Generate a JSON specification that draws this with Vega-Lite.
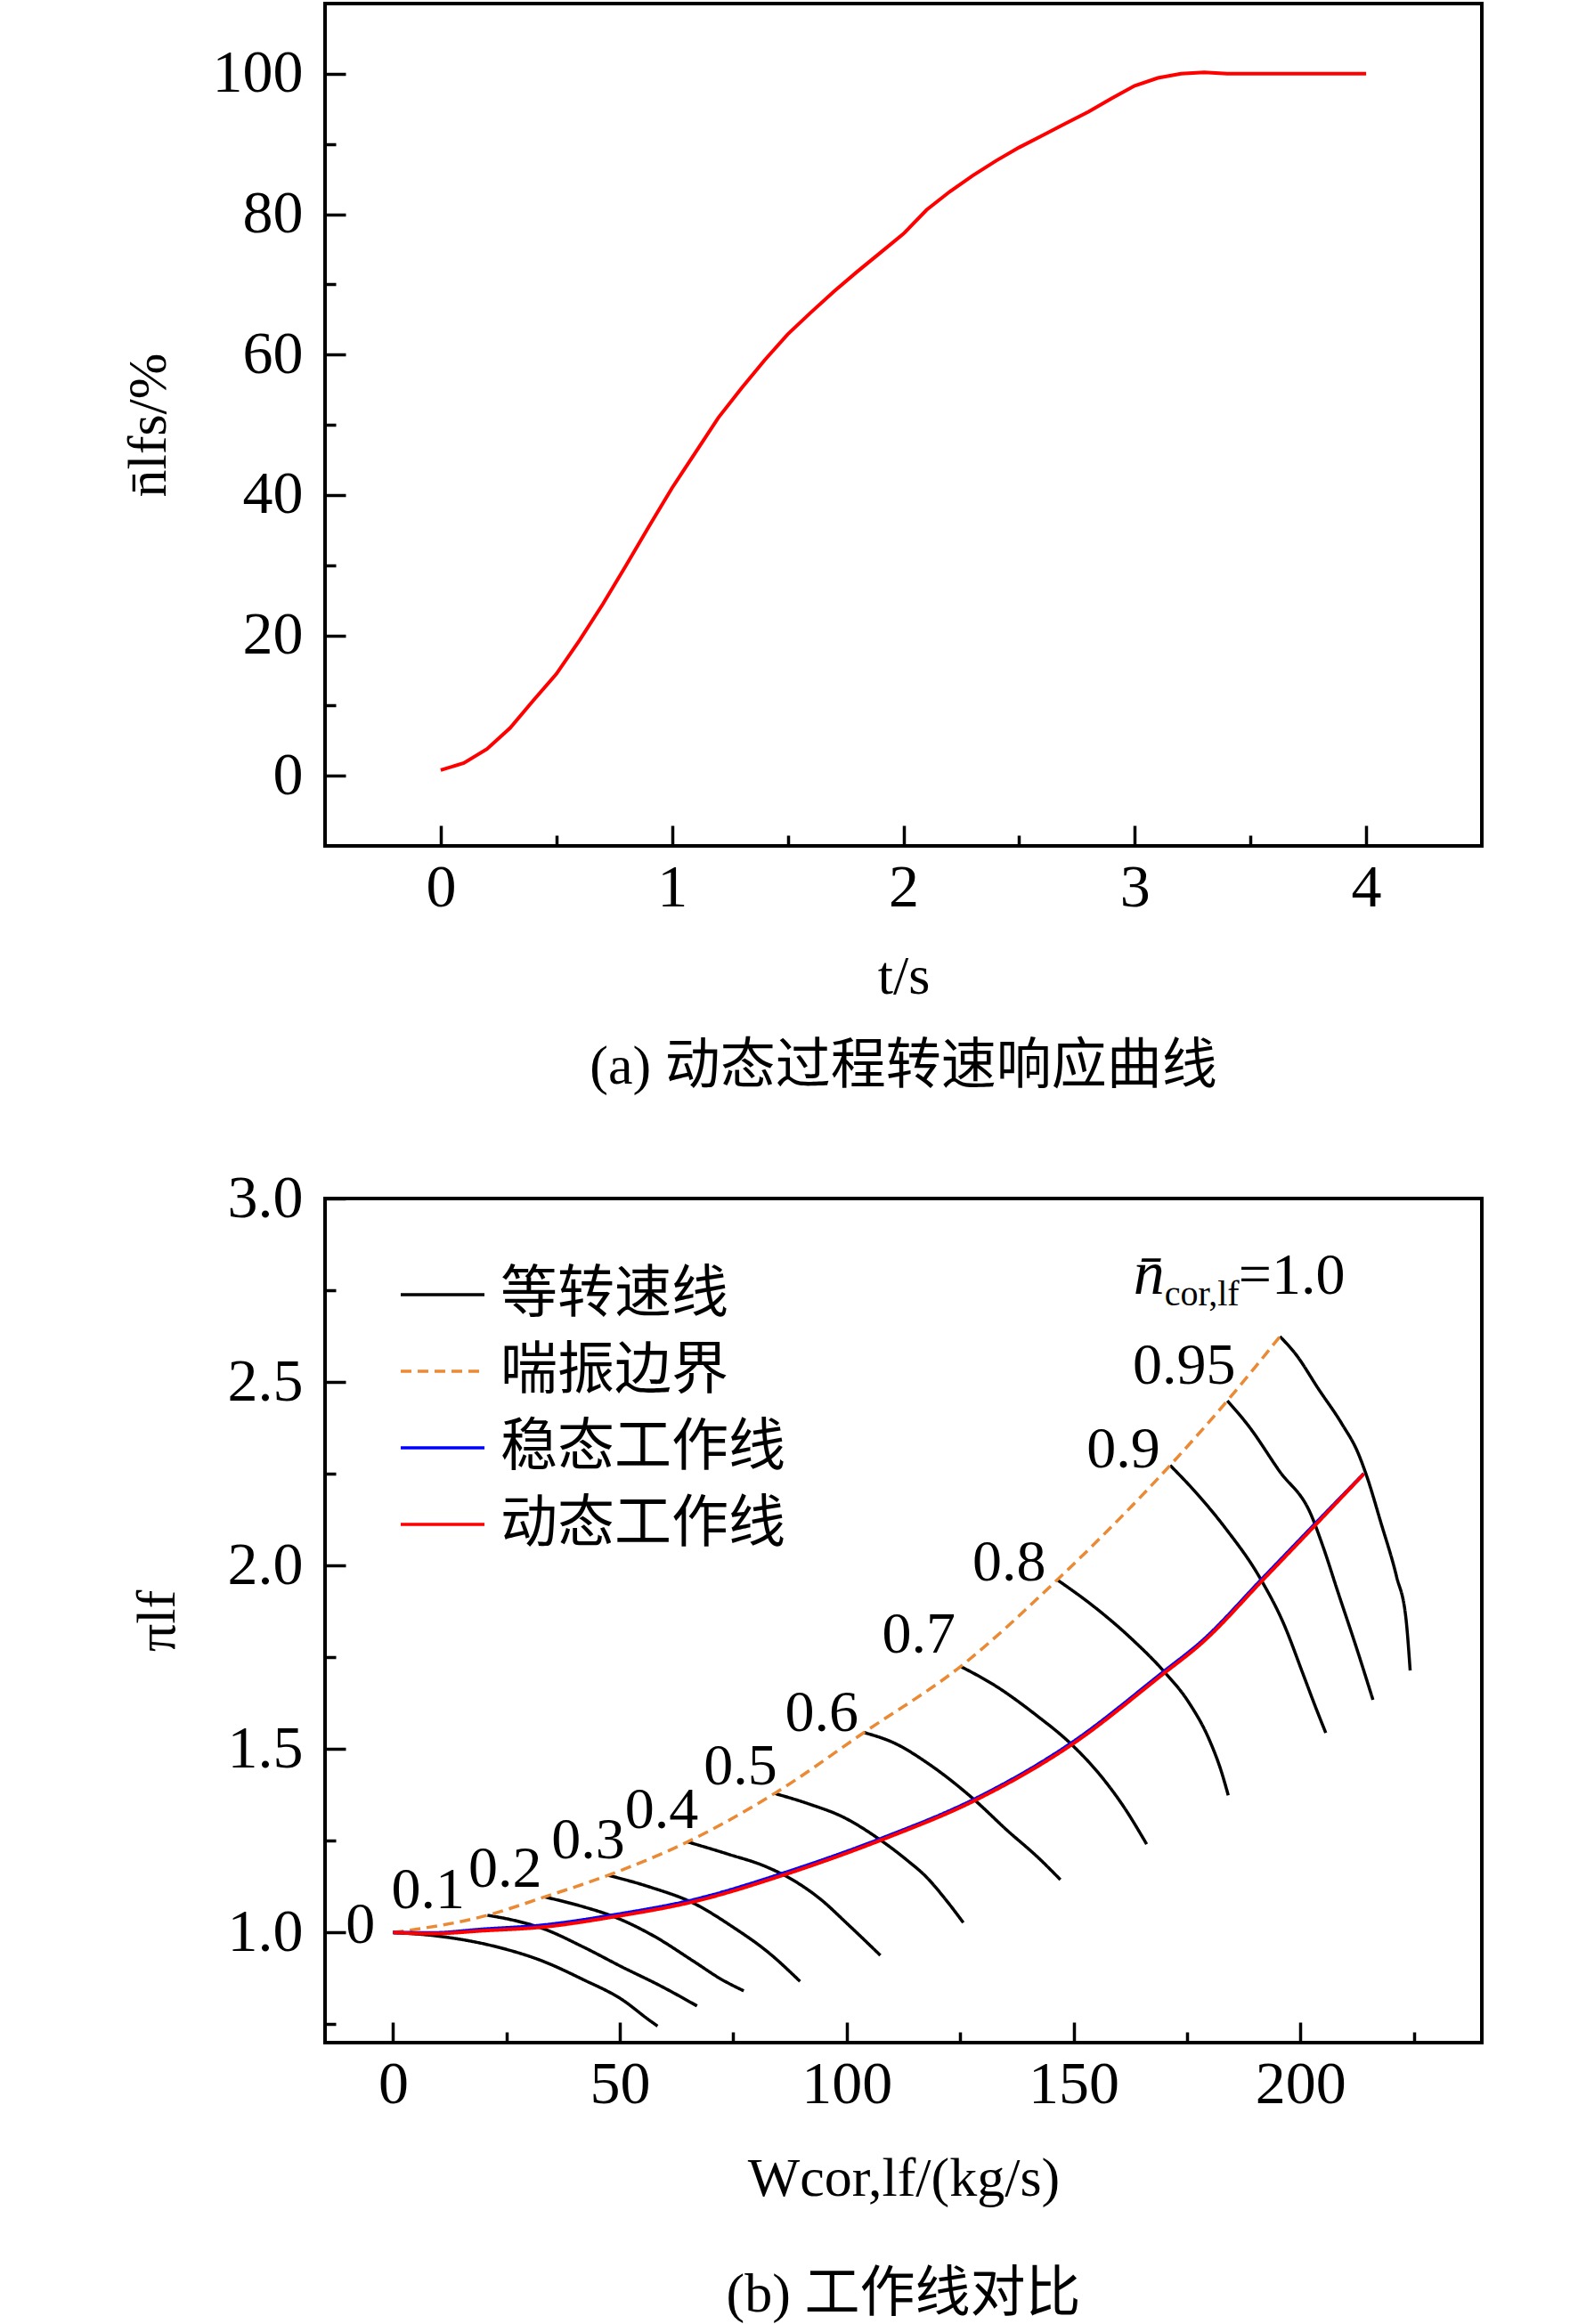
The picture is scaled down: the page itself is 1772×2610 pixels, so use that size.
{
  "$schema": "https://vega.github.io/schema/vega-lite/v6.json",
  "padding": {"left": 133, "top": 2, "right": 0, "bottom": 0},
  "spacing": 79,
  "config": {
    "view": {"stroke": "black", "strokeWidth": 4},
    "font": "Liberation Serif",
    "axis": {
      "grid": false,
      "domain": false,
      "tickColor": "black",
      "tickWidth": 3.5,
      "labelFont": "Liberation Serif",
      "labelFontSize": 68,
      "labelColor": "black",
      "labelFlush": false,
      "labelOverlap": false,
      "titleFont": "Liberation Serif",
      "titleFontSize": 62,
      "titleFontWeight": "normal",
      "titleColor": "black"
    },
    "axisX": {"labelPadding": 36},
    "axisY": {"labelPadding": 48},
    "title": {
      "font": "'Liberation Serif', 'Noto Sans CJK SC'",
      "fontSize": 62,
      "fontWeight": "normal",
      "color": "black",
      "orient": "bottom",
      "anchor": "middle"
    },
    "legend": {
      "orient": "none",
      "legendX": 83,
      "legendY": 1401,
      "padding": 0,
      "labelFont": "Noto Sans CJK SC",
      "labelFontSize": 64,
      "labelColor": "black",
      "labelLimit": 0,
      "labelOffset": 16,
      "symbolType": "stroke",
      "symbolSize": 8836,
      "symbolStrokeWidth": 3.5,
      "rowPadding": 5
    }
  },
  "vconcat": [
    {
      "width": 1299,
      "height": 946,
      "title": {"text": "(a) 动态过程转速响应曲线", "offset": 41},
      "data": {
        "values": [
          {"t": 0.0, "n": 0.8}, {"t": 0.1, "n": 1.8}, {"t": 0.2, "n": 3.8},
          {"t": 0.3, "n": 6.8}, {"t": 0.4, "n": 10.7}, {"t": 0.5, "n": 14.5},
          {"t": 0.6, "n": 19.3}, {"t": 0.7, "n": 24.4}, {"t": 0.8, "n": 29.9},
          {"t": 0.9, "n": 35.5}, {"t": 1.0, "n": 41.0}, {"t": 1.1, "n": 46.0},
          {"t": 1.2, "n": 51.0}, {"t": 1.3, "n": 55.2}, {"t": 1.4, "n": 59.2},
          {"t": 1.5, "n": 62.9}, {"t": 1.6, "n": 66.0}, {"t": 1.7, "n": 69.0},
          {"t": 1.8, "n": 71.8}, {"t": 1.9, "n": 74.5}, {"t": 2.0, "n": 77.2},
          {"t": 2.1, "n": 80.6}, {"t": 2.2, "n": 83.2}, {"t": 2.3, "n": 85.5},
          {"t": 2.4, "n": 87.6}, {"t": 2.5, "n": 89.5}, {"t": 2.6, "n": 91.2},
          {"t": 2.7, "n": 92.9}, {"t": 2.8, "n": 94.6}, {"t": 2.9, "n": 96.5},
          {"t": 3.0, "n": 98.3}, {"t": 3.1, "n": 99.4}, {"t": 3.2, "n": 100.0},
          {"t": 3.3, "n": 100.2}, {"t": 3.4, "n": 100.0}, {"t": 4.0, "n": 100.0}
        ]
      },
      "mark": {"type": "line", "color": "red", "strokeWidth": 4},
      "encoding": {
        "x": {
          "field": "t",
          "type": "quantitative",
          "scale": {"domain": [-0.5, 4.5], "nice": false, "zero": false},
          "axis": {
            "title": "t/s",
            "titlePadding": 24,
            "format": "~g",
            "values": [0, 0.5, 1, 1.5, 2, 2.5, 3, 3.5, 4],
            "labelExpr": "datum.value % 1 === 0 ? datum.label : ''",
            "tickSize": {"condition": {"test": "datum.value % 1 === 0", "value": -23}, "value": -12}
          }
        },
        "y": {
          "field": "n",
          "type": "quantitative",
          "scale": {"domain": [-10, 110], "nice": false, "zero": false},
          "axis": {
            "title": "n̄lfs/%",
            "titlePadding": 40,
            "values": [0, 10, 20, 30, 40, 50, 60, 70, 80, 90, 100],
            "labelExpr": "datum.value % 20 === 0 ? datum.label : ''",
            "tickSize": {"condition": {"test": "datum.value % 20 === 0", "value": -23}, "value": -12}
          }
        }
      }
    },
    {
      "width": 1299,
      "height": 948,
      "title": {"text": "(b) 工作线对比", "offset": 70},
      "data": {
        "values": [
          {"s": "等转速线", "c": "0", "W": 0.0, "p": 1.0},
          {"s": "等转速线", "c": "0", "W": 9.4, "p": 0.991},
          {"s": "等转速线", "c": "0", "W": 22.5, "p": 0.962},
          {"s": "等转速线", "c": "0", "W": 33.0, "p": 0.922},
          {"s": "等转速线", "c": "0", "W": 41.7, "p": 0.873},
          {"s": "等转速线", "c": "0", "W": 50.5, "p": 0.817},
          {"s": "等转速线", "c": "0", "W": 56.6, "p": 0.76},
          {"s": "等转速线", "c": "0", "W": 58.3, "p": 0.745},

          {"s": "等转速线", "c": "0.1", "W": 20.8, "p": 1.047},
          {"s": "等转速线", "c": "0.1", "W": 26.0, "p": 1.035},
          {"s": "等转速线", "c": "0.1", "W": 33.0, "p": 1.011},
          {"s": "等转速线", "c": "0.1", "W": 41.7, "p": 0.962},
          {"s": "等转速线", "c": "0.1", "W": 50.5, "p": 0.906},
          {"s": "等转速线", "c": "0.1", "W": 59.2, "p": 0.853},
          {"s": "等转速线", "c": "0.1", "W": 67.0, "p": 0.8},

          {"s": "等转速线", "c": "0.2", "W": 33.4, "p": 1.097},
          {"s": "等转速线", "c": "0.2", "W": 41.7, "p": 1.071},
          {"s": "等转速线", "c": "0.2", "W": 48.7, "p": 1.043},
          {"s": "等转速线", "c": "0.2", "W": 57.4, "p": 0.991},
          {"s": "等转速线", "c": "0.2", "W": 66.2, "p": 0.922},
          {"s": "等转速线", "c": "0.2", "W": 72.3, "p": 0.873},
          {"s": "等转速线", "c": "0.2", "W": 77.3, "p": 0.841},

          {"s": "等转速线", "c": "0.3", "W": 47.4, "p": 1.156},
          {"s": "等转速线", "c": "0.3", "W": 56.6, "p": 1.124},
          {"s": "等转速线", "c": "0.3", "W": 66.2, "p": 1.08},
          {"s": "等转速线", "c": "0.3", "W": 74.9, "p": 1.015},
          {"s": "等转速线", "c": "0.3", "W": 82.7, "p": 0.946},
          {"s": "等转速线", "c": "0.3", "W": 89.7, "p": 0.867},

          {"s": "等转速线", "c": "0.4", "W": 64.9, "p": 1.247},
          {"s": "等转速线", "c": "0.4", "W": 74.0, "p": 1.213},
          {"s": "等转速线", "c": "0.4", "W": 81.9, "p": 1.181},
          {"s": "等转速线", "c": "0.4", "W": 88.0, "p": 1.144},
          {"s": "等转速线", "c": "0.4", "W": 94.1, "p": 1.092},
          {"s": "等转速线", "c": "0.4", "W": 100.2, "p": 1.023},
          {"s": "等转速线", "c": "0.4", "W": 107.4, "p": 0.938},

          {"s": "等转速线", "c": "0.5", "W": 84.1, "p": 1.379},
          {"s": "等转速线", "c": "0.5", "W": 91.5, "p": 1.351},
          {"s": "等转速线", "c": "0.5", "W": 99.3, "p": 1.314},
          {"s": "等转速线", "c": "0.5", "W": 107.2, "p": 1.254},
          {"s": "等转速线", "c": "0.5", "W": 113.3, "p": 1.197},
          {"s": "等转速线", "c": "0.5", "W": 117.5, "p": 1.152},
          {"s": "等转速线", "c": "0.5", "W": 121.8, "p": 1.09},
          {"s": "等转速线", "c": "0.5", "W": 125.7, "p": 1.027},

          {"s": "等转速线", "c": "0.6", "W": 103.8, "p": 1.545},
          {"s": "等转速线", "c": "0.6", "W": 110.7, "p": 1.515},
          {"s": "等转速线", "c": "0.6", "W": 118.0, "p": 1.46},
          {"s": "等转速线", "c": "0.6", "W": 128.1, "p": 1.362},
          {"s": "等转速线", "c": "0.6", "W": 135.4, "p": 1.278},
          {"s": "等转速线", "c": "0.6", "W": 142.3, "p": 1.203},
          {"s": "等转速线", "c": "0.6", "W": 147.1, "p": 1.144},

          {"s": "等转速线", "c": "0.7", "W": 125.1, "p": 1.725},
          {"s": "等转速线", "c": "0.7", "W": 132.8, "p": 1.672},
          {"s": "等转速线", "c": "0.7", "W": 141.8, "p": 1.592},
          {"s": "等转速线", "c": "0.7", "W": 149.6, "p": 1.512},
          {"s": "等转速线", "c": "0.7", "W": 156.0, "p": 1.427},
          {"s": "等转速线", "c": "0.7", "W": 161.1, "p": 1.342},
          {"s": "等转速线", "c": "0.7", "W": 166.1, "p": 1.241},

          {"s": "等转速线", "c": "0.8", "W": 146.4, "p": 1.961},
          {"s": "等转速线", "c": "0.8", "W": 154.3, "p": 1.89},
          {"s": "等转速线", "c": "0.8", "W": 162.9, "p": 1.799},
          {"s": "等转速线", "c": "0.8", "W": 170.1, "p": 1.709},
          {"s": "等转速线", "c": "0.8", "W": 175.3, "p": 1.629},
          {"s": "等转速线", "c": "0.8", "W": 180.0, "p": 1.523},
          {"s": "等转速线", "c": "0.8", "W": 182.6, "p": 1.438},
          {"s": "等转速线", "c": "0.8", "W": 184.1, "p": 1.374},

          {"s": "等转速线", "c": "0.9", "W": 171.3, "p": 2.273},
          {"s": "等转速线", "c": "0.9", "W": 177.4, "p": 2.193},
          {"s": "等转速线", "c": "0.9", "W": 183.4, "p": 2.103},
          {"s": "等转速线", "c": "0.9", "W": 191.2, "p": 1.964},
          {"s": "等转速线", "c": "0.9", "W": 196.3, "p": 1.842},
          {"s": "等转速线", "c": "0.9", "W": 200.6, "p": 1.704},
          {"s": "等转速线", "c": "0.9", "W": 203.2, "p": 1.619},
          {"s": "等转速线", "c": "0.9", "W": 205.6, "p": 1.544},

          {"s": "等转速线", "c": "0.95", "W": 183.9, "p": 2.449},
          {"s": "等转速线", "c": "0.95", "W": 188.6, "p": 2.38},
          {"s": "等转速线", "c": "0.95", "W": 195.4, "p": 2.257},
          {"s": "等转速线", "c": "0.95", "W": 202.3, "p": 2.14},
          {"s": "等转速线", "c": "0.95", "W": 204.9, "p": 2.055},
          {"s": "等转速线", "c": "0.95", "W": 208.3, "p": 1.927},
          {"s": "等转速线", "c": "0.95", "W": 212.6, "p": 1.767},
          {"s": "等转速线", "c": "0.95", "W": 216.0, "p": 1.634},

          {"s": "等转速线", "c": "1.0", "W": 195.5, "p": 2.624},
          {"s": "等转速线", "c": "1.0", "W": 198.9, "p": 2.577},
          {"s": "等转速线", "c": "1.0", "W": 204.0, "p": 2.481},
          {"s": "等转速线", "c": "1.0", "W": 209.2, "p": 2.385},
          {"s": "等转速线", "c": "1.0", "W": 212.6, "p": 2.31},
          {"s": "等转速线", "c": "1.0", "W": 214.7, "p": 2.241},
          {"s": "等转速线", "c": "1.0", "W": 217.7, "p": 2.119},
          {"s": "等转速线", "c": "1.0", "W": 221.2, "p": 1.97},
          {"s": "等转速线", "c": "1.0", "W": 223.3, "p": 1.853},
          {"s": "等转速线", "c": "1.0", "W": 224.2, "p": 1.714},

          {"s": "喘振边界", "c": "surge", "W": 0.0, "p": 1.0},
          {"s": "喘振边界", "c": "surge", "W": 20.8, "p": 1.047},
          {"s": "喘振边界", "c": "surge", "W": 33.4, "p": 1.097},
          {"s": "喘振边界", "c": "surge", "W": 47.4, "p": 1.156},
          {"s": "喘振边界", "c": "surge", "W": 64.9, "p": 1.247},
          {"s": "喘振边界", "c": "surge", "W": 84.1, "p": 1.379},
          {"s": "喘振边界", "c": "surge", "W": 103.8, "p": 1.545},
          {"s": "喘振边界", "c": "surge", "W": 125.1, "p": 1.725},
          {"s": "喘振边界", "c": "surge", "W": 146.4, "p": 1.961},
          {"s": "喘振边界", "c": "surge", "W": 171.3, "p": 2.273},
          {"s": "喘振边界", "c": "surge", "W": 183.9, "p": 2.449},
          {"s": "喘振边界", "c": "surge", "W": 195.5, "p": 2.624},

          {"s": "稳态工作线", "c": "steady", "W": 0.0, "p": 1.0},
          {"s": "稳态工作线", "c": "steady", "W": 8.6, "p": 0.999},
          {"s": "稳态工作线", "c": "steady", "W": 19.9, "p": 1.009},
          {"s": "稳态工作线", "c": "steady", "W": 33.0, "p": 1.02},
          {"s": "稳态工作线", "c": "steady", "W": 48.7, "p": 1.048},
          {"s": "稳态工作线", "c": "steady", "W": 66.2, "p": 1.089},
          {"s": "稳态工作线", "c": "steady", "W": 87.1, "p": 1.166},
          {"s": "稳态工作线", "c": "steady", "W": 108.0, "p": 1.258},
          {"s": "稳态工作线", "c": "steady", "W": 128.1, "p": 1.363},
          {"s": "稳态工作线", "c": "steady", "W": 149.6, "p": 1.517},
          {"s": "稳态工作线", "c": "steady", "W": 169.7, "p": 1.709},
          {"s": "稳态工作线", "c": "steady", "W": 178.3, "p": 1.794},
          {"s": "稳态工作线", "c": "steady", "W": 191.6, "p": 1.964},
          {"s": "稳态工作线", "c": "steady", "W": 203.6, "p": 2.118},
          {"s": "稳态工作线", "c": "steady", "W": 214.0, "p": 2.25},

          {"s": "动态工作线", "c": "dynamic", "W": 0.0, "p": 1.0},
          {"s": "动态工作线", "c": "dynamic", "W": 8.6, "p": 0.997},
          {"s": "动态工作线", "c": "dynamic", "W": 19.9, "p": 1.005},
          {"s": "动态工作线", "c": "dynamic", "W": 33.0, "p": 1.015},
          {"s": "动态工作线", "c": "dynamic", "W": 48.7, "p": 1.043},
          {"s": "动态工作线", "c": "dynamic", "W": 66.2, "p": 1.084},
          {"s": "动态工作线", "c": "dynamic", "W": 87.1, "p": 1.161},
          {"s": "动态工作线", "c": "dynamic", "W": 108.0, "p": 1.254},
          {"s": "动态工作线", "c": "dynamic", "W": 128.1, "p": 1.359},
          {"s": "动态工作线", "c": "dynamic", "W": 149.6, "p": 1.512},
          {"s": "动态工作线", "c": "dynamic", "W": 169.7, "p": 1.704},
          {"s": "动态工作线", "c": "dynamic", "W": 178.3, "p": 1.789},
          {"s": "动态工作线", "c": "dynamic", "W": 191.6, "p": 1.959},
          {"s": "动态工作线", "c": "dynamic", "W": 203.6, "p": 2.114},
          {"s": "动态工作线", "c": "dynamic", "W": 214.0, "p": 2.25}
        ]
      },
      "encoding": {
        "x": {
          "field": "W",
          "type": "quantitative",
          "scale": {"domain": [-15, 240], "nice": false, "zero": false},
          "axis": {
            "title": "Wcor,lf/(kg/s)",
            "titlePadding": 30,
            "values": [0, 25, 50, 75, 100, 125, 150, 175, 200, 225],
            "labelExpr": "datum.value % 50 === 0 ? datum.label : ''",
            "tickSize": {"condition": {"test": "datum.value % 50 === 0", "value": -23}, "value": -12}
          }
        },
        "y": {
          "field": "p",
          "type": "quantitative",
          "scale": {"domain": [0.7, 3.0], "nice": false, "zero": false},
          "axis": {
            "title": "πlf",
            "titlePadding": 47,
            "format": ".1f",
            "values": [0.75, 1.0, 1.25, 1.5, 1.75, 2.0, 2.25, 2.5, 2.75, 3.0],
            "labelExpr": "(datum.value * 2) % 1 === 0 ? datum.label : ''",
            "tickSize": {"condition": {"test": "(datum.value * 2) % 1 === 0", "value": -23}, "value": -12}
          }
        }
      },
      "layer": [
        {
          "transform": [{"filter": "datum.s === '等转速线' || datum.s === '喘振边界'"}],
          "mark": {"type": "line", "strokeWidth": 3.5, "interpolate": "monotone"},
          "encoding": {
            "detail": {"field": "c"},
            "color": {
              "field": "s",
              "type": "nominal",
              "title": null,
              "scale": {
                "domain": ["等转速线", "喘振边界", "稳态工作线", "动态工作线"],
                "range": ["black", "#EB8A35", "#0000FF", "#FF0000"]
              }
            },
            "strokeDash": {
              "field": "s",
              "type": "nominal",
              "title": null,
              "scale": {
                "domain": ["等转速线", "喘振边界", "稳态工作线", "动态工作线"],
                "range": [[1, 0], [12, 7], [1, 0], [1, 0]]
              }
            }
          }
        },
        {
          "transform": [{"filter": "datum.s === '稳态工作线'"}],
          "mark": {"type": "line", "strokeWidth": 4, "interpolate": "monotone"},
          "encoding": {
            "color": {"field": "s", "type": "nominal", "title": null},
            "strokeDash": {"field": "s", "type": "nominal", "title": null}
          }
        },
        {
          "transform": [{"filter": "datum.s === '动态工作线'"}],
          "mark": {"type": "line", "strokeWidth": 4, "interpolate": "monotone"},
          "encoding": {
            "color": {"field": "s", "type": "nominal", "title": null},
            "strokeDash": {"field": "s", "type": "nominal", "title": null}
          }
        },
        {
          "data": {
            "values": [
              {"label": "0", "W": -7.2, "p": 1.02},
              {"label": "0.1", "W": 7.7, "p": 1.116},
              {"label": "0.2", "W": 24.7, "p": 1.173},
              {"label": "0.3", "W": 43.0, "p": 1.25},
              {"label": "0.4", "W": 59.2, "p": 1.334},
              {"label": "0.5", "W": 76.6, "p": 1.452},
              {"label": "0.6", "W": 94.5, "p": 1.597},
              {"label": "0.7", "W": 115.9, "p": 1.81},
              {"label": "0.8", "W": 135.8, "p": 2.007},
              {"label": "0.9", "W": 161.0, "p": 2.316},
              {"label": "0.95", "W": 174.4, "p": 2.545}
            ]
          },
          "mark": {"type": "text", "font": "Liberation Serif", "fontSize": 66, "align": "center", "baseline": "middle", "color": "black"},
          "encoding": {"text": {"field": "label"}}
        },
        {
          "data": {"values": [{"W": 163.2, "p": 2.74}]},
          "layer": [
            {"mark": {"type": "text", "text": "n̄", "font": "Liberation Serif", "fontStyle": "italic", "fontSize": 70, "align": "left", "baseline": "alphabetic", "color": "black"}},
            {"mark": {"type": "text", "text": "cor,lf", "font": "Liberation Serif", "fontSize": 40, "align": "left", "baseline": "alphabetic", "dx": 35, "dy": 13, "color": "black"}},
            {"mark": {"type": "text", "text": "=1.0", "font": "Liberation Serif", "fontSize": 66, "align": "left", "baseline": "alphabetic", "dx": 118, "color": "black"}}
          ]
        }
      ]
    }
  ]
}
